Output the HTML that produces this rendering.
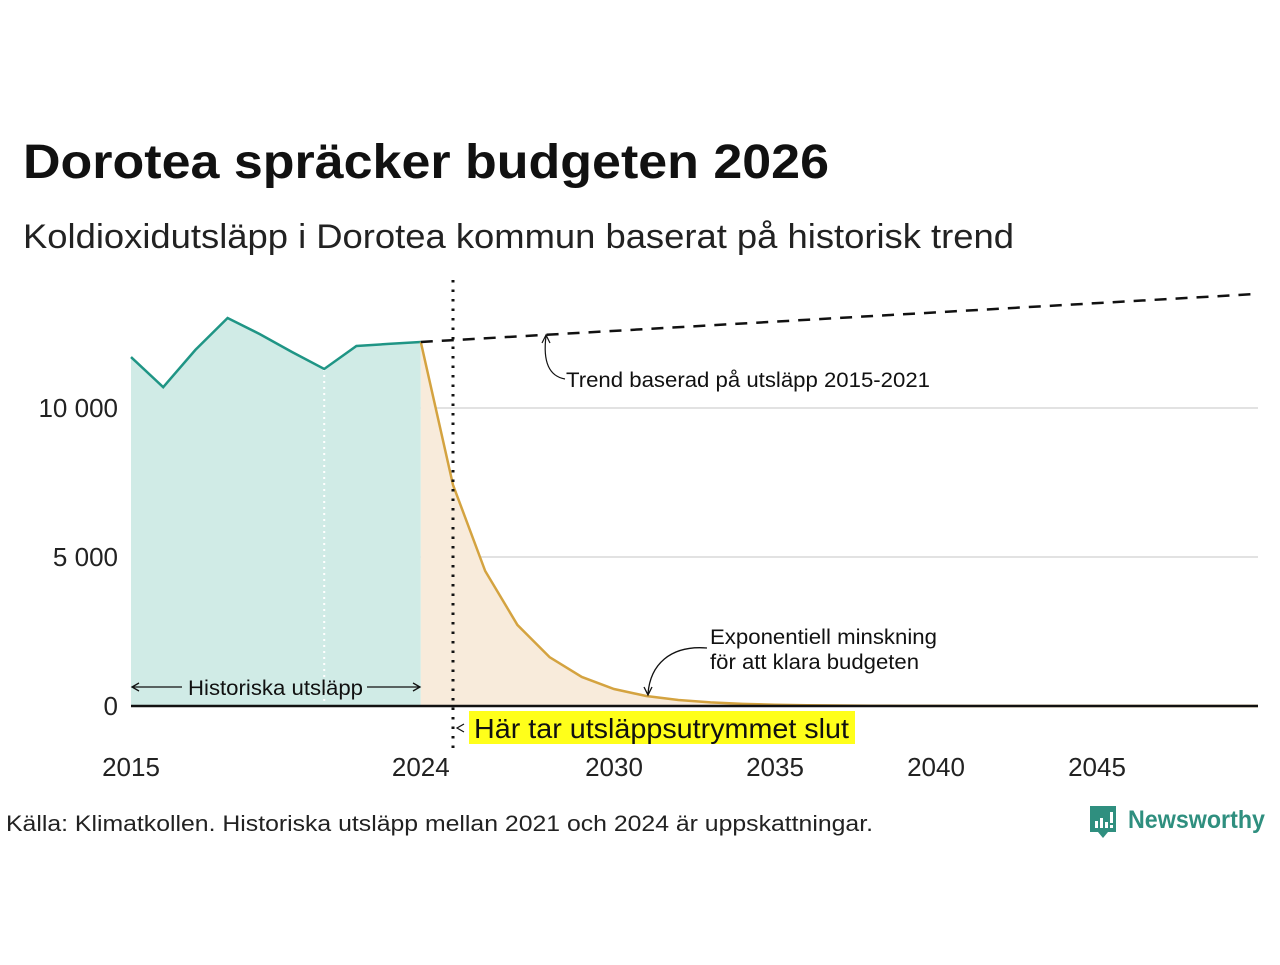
<!DOCTYPE html>
<html><head><meta charset="utf-8"><style>
body{margin:0;background:#fff;}
svg text{font-family:"Liberation Sans",sans-serif;}
</style></head><body>
<svg id="c" width="1280" height="960" viewBox="0 0 1280 960" xmlns="http://www.w3.org/2000/svg">
<text x="23" y="178" font-size="48" font-weight="bold" fill="#111" textLength="806" lengthAdjust="spacingAndGlyphs">Dorotea spräcker budgeten 2026</text>
<text x="23" y="248" font-size="34" fill="#222" textLength="991" lengthAdjust="spacingAndGlyphs">Koldioxidutsläpp i Dorotea kommun baserat på historisk trend</text>
<g id="grid"></g>
<g id="marks"></g>
<g id="ann"></g>
<text x="6" y="831" font-size="22" fill="#222" textLength="867" lengthAdjust="spacingAndGlyphs">Källa: Klimatkollen. Historiska utsläpp mellan 2021 och 2024 är uppskattningar.</text>
<g>
<path d="M1090 806 h26 v26 h-8 l-5 6 l-5 -6 h-8 z" fill="#2f8f7f"/>
<rect x="1095" y="821" width="3" height="7" fill="#fff"/><rect x="1100" y="818" width="3" height="10" fill="#fff"/><rect x="1105" y="822" width="3" height="6" fill="#fff"/><rect x="1110" y="812" width="3" height="11" fill="#fff"/><rect x="1110" y="825" width="3" height="3" fill="#fff"/>
<text x="1128" y="828" font-size="25" font-weight="bold" fill="#2f8f7f" textLength="137" lengthAdjust="spacingAndGlyphs">Newsworthy</text>
</g>
</svg>
<script>
const histYears=[2015,2016,2017,2018,2019,2020,2021,2022,2023,2024];
const histValues=[11710,10700,11950,13020,12480,11880,11310,12080,12150,12215];
const projYears=[2024,2025,2026,2027,2028,2029,2030,2031,2032,2033,2034,2035,2036,2037,2038,2039,2040,2041,2042,2043,2044,2045,2046,2047,2048,2049,2050];
const projValues=[12215,7420,4530,2720,1640,975,570,335,200,120,70,42,25,15,9,5,3,2,1,1,0.5,0.3,0.2,0.1,0.1,0,0];
const trendYears=[2024,2050];
const trendValues=[12215,13830];
const yTicks=[0,5000,10000];
const yTickLabels=["0","5 000","10 000"];
const xTicks=[2015,2024,2030,2035,2040,2045];
const NS="http://www.w3.org/2000/svg";
const X=y=>131+(y-2015)*(1258-131)/35;
const Y=v=>706-v*(706-408)/10000;
function mk(p,t,a){const e=document.createElementNS(NS,t);for(const k in a)e.setAttribute(k,a[k]);document.getElementById(p).appendChild(e);return e;}
yTicks.forEach((t,i)=>{
 if(t>0){const l=mk('grid','line',{x1:131,x2:1258,y1:Y(t),y2:Y(t),stroke:'#e2e2e2','stroke-width':2});
 
 }
 const tx=mk('grid','text',{x:118,y:Y(t)+9,'font-size':26,'text-anchor':'end',fill:'#222'});tx.textContent=yTickLabels[i];
 
 
});
xTicks.forEach(t=>{const tx=mk('grid','text',{x:X(t),y:776,'font-size':26,'text-anchor':'middle',fill:'#222'});tx.textContent=t;
 
 });
const hp=histYears.map((y,i)=>X(y)+','+Y(histValues[i])).join(' ');
const ha=mk('marks','polygon',{points:X(histYears[0])+','+Y(0)+' '+hp+' '+X(histYears[histYears.length-1])+','+Y(0),fill:'#d0ebe6'});


const pp=projYears.map((y,i)=>X(y)+','+Y(projValues[i])).join(' ');
const pa=mk('marks','polygon',{points:X(projYears[0])+','+Y(0)+' '+pp+' '+X(projYears[projYears.length-1])+','+Y(0),fill:'#f8ebdb'});


const wl=mk('marks','line',{x1:X(2021),x2:X(2021),y1:Y(histValues[6]),y2:Y(0),stroke:'#fff','stroke-width':2,'stroke-dasharray':'2 4'});


const hl=mk('marks','polyline',{points:hp,fill:'none',stroke:'#1f9585','stroke-width':2.5});


const pl=mk('marks','polyline',{points:pp,fill:'none',stroke:'#d4a340','stroke-width':2.5});


const tl=mk('marks','line',{x1:X(trendYears[0]),y1:Y(trendValues[0]),x2:X(trendYears[1]),y2:Y(trendValues[1]),stroke:'#111','stroke-width':2.5,'stroke-dasharray':'12 9'});


const ax=mk('marks','line',{x1:131,x2:1258,y1:Y(0),y2:Y(0),stroke:'#111','stroke-width':2.5});


const vl=mk('marks','line',{x1:X(2025),x2:X(2025),y1:280,y2:748,stroke:'#111','stroke-width':3,'stroke-dasharray':'2.5 7'});


document.getElementById('ann').innerHTML=`
<g>
<line x1="133" y1="687" x2="182" y2="687" stroke="#111" stroke-width="1.3"/><path d="M139 683 L132 687 L139 691" fill="none" stroke="#111" stroke-width="1.3"/>
<line x1="367" y1="687" x2="420" y2="687" stroke="#111" stroke-width="1.3"/><path d="M413 683 L420 687 L413 691" fill="none" stroke="#111" stroke-width="1.3"/>
<text x="188" y="695" font-size="21" fill="#111" textLength="175" lengthAdjust="spacingAndGlyphs">Historiska utsläpp</text></g>
<g>
<path d="M565 379 C548 376 543 360 546 336" fill="none" stroke="#111" stroke-width="1.2"/><path d="M542 343 L546 335 L550 343" fill="none" stroke="#111" stroke-width="1.2"/>
<text x="566" y="387" font-size="21" fill="#111" textLength="364" lengthAdjust="spacingAndGlyphs">Trend baserad på utsläpp 2015-2021</text></g>
<g>
<path d="M707 648 C670 645 650 665 648 694" fill="none" stroke="#111" stroke-width="1.3"/><path d="M644 687 L648 695 L652 687" fill="none" stroke="#111" stroke-width="1.3"/>
<text x="710" y="644" font-size="21" fill="#111" textLength="227" lengthAdjust="spacingAndGlyphs">Exponentiell minskning</text>
<text x="710" y="669" font-size="21" fill="#111" textLength="209" lengthAdjust="spacingAndGlyphs">för att klara budgeten</text></g>
<g>
<path d="M464 724 L457 728 L464 732" fill="none" stroke="#111" stroke-width="1.2"/>
<rect x="469" y="711" width="386" height="33" fill="#ffff1a"/>
<text x="474" y="738" font-size="28" fill="#111" textLength="375" lengthAdjust="spacingAndGlyphs">Här tar utsläppsutrymmet slut</text></g>`;
</script>
</body></html>
